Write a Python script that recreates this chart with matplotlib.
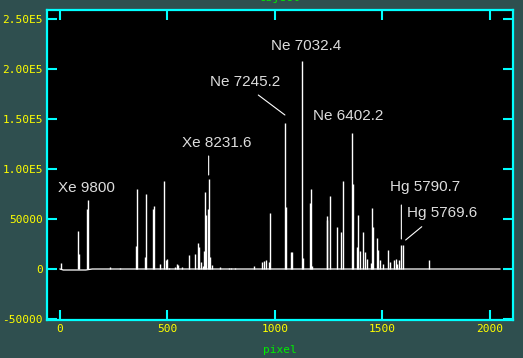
import matplotlib
matplotlib.use("Agg")
import matplotlib.pyplot as plt

# ---- data ----
peak_pixel = [6, 84, 90, 127, 132, 233, 279, 355, 360, 397, 402, 434, 439, 467, 483, 492, 497,
              509, 534, 543, 551, 567, 599, 630, 641, 645, 655, 667, 672, 676, 680, 689, 695, 700,
              708, 745, 788, 796, 816, 904, 940, 950, 959, 973, 979, 1046, 1052, 1074, 1078, 1128,
              1131, 1162, 1167, 1174, 1241, 1244, 1257, 1288, 1310, 1319, 1361, 1365, 1381, 1386,
              1397, 1409, 1420, 1431, 1446, 1454, 1458, 1474, 1479, 1490, 1505, 1528, 1536, 1555,
              1563, 1570, 1578, 1589, 1597, 1719]
peak_counts = [6000, 38000, 15000, 60000, 69000, 2000, 1500, 23000, 80000, 12000, 75000, 60000,
               63000, 5000, 88000, 9000, 10000, 1000, 2000, 5000, 4000, 2000, 14000, 15000, 26000,
               22000, 7000, 3000, 18000, 77000, 54000, 60000, 90000, 12000, 4000, 2000, 1500, 1500,
               1500, 3000, 7000, 8000, 9000, 7000, 56000, 146000, 62000, 17000, 17000, 208000,
               11000, 66000, 80000, 3000, 53000, 49000, 73000, 42000, 37000, 88000, 136000, 85000,
               22000, 54000, 18000, 37000, 17000, 10000, 6000, 61000, 42000, 31000, 19000, 9000,
               5000, 19000, 7000, 9000, 10000, 5000, 9000, 24000, 24000, 9000]
baseline_pixel = [0, 15, 120, 150, 2048]
baseline_counts = [0, -1000, -1000, 0, 0]

xtick_values = [0, 500, 1000, 1500, 2000]
xtick_labels = ["0", "500", "1000", "1500", "2000"]
ytick_values = [-50000, 0, 50000, 100000, 150000, 200000, 250000]
ytick_labels = ["-50000", "0", "50000", "1.00E5", "1.50E5", "2.00E5", "2.50E5"]

# label, text position, arrow start, arrow end (None = no arrow)
line_labels = ["Xe 9800", "Xe 8231.6", "Ne 7245.2", "Ne 7032.4", "Ne 6402.2", "Hg 5790.7", "Hg 5769.6"]
label_x = [123, 728, 863, 1147, 1343, 1699, 1777]
label_y = [80700, 126300, 187300, 223000, 153000, 82300, 56300]
arrow_start = [None, (692, 113000), (923, 174000), None, None, (1589, 64000), (1684, 42300)]
arrow_end = [None, (692, 94000), (1047, 154000), None, None, (1589, 30000), (1609, 29000)]

# ---- figure ----
BG = "#2f4f4f"
CYAN = "#00ffff"
YELLOW = "#ffff00"
GREEN = "#00ee00"

fig = plt.figure(figsize=(5.23, 3.58), dpi=100, facecolor=BG)
ax = fig.add_axes([47 / 523, 38 / 358, 466 / 523, 310 / 358])
ax.set_facecolor("black")

ax.plot(baseline_pixel, baseline_counts, color="white", lw=0.9)
ax.vlines(peak_pixel, 0, peak_counts, color="white", lw=1.0)

ax.set_xlim(-60.5, 2108.7)
ax.set_ylim(-51000, 259000)

ax.set_xticks(xtick_values)
ax.set_xticklabels(xtick_labels)
ax.set_yticks(ytick_values)
ax.set_yticklabels(ytick_labels)

for s in ax.spines.values():
    s.set_color(CYAN)
    s.set_linewidth(1.6)

ax.tick_params(axis="both", which="major", direction="in", length=7, width=1.5,
               color=CYAN, labelcolor=YELLOW, top=True, right=True,
               labelsize=8)
ax.tick_params(axis="x", pad=3)
ax.tick_params(axis="y", pad=3)
for lab in ax.get_xticklabels() + ax.get_yticklabels():
    lab.set_family("DejaVu Sans Mono")

for i, txt in enumerate(line_labels):
    ax.text(label_x[i], label_y[i], txt, color="#dddddd", fontsize=11,
            family="Liberation Sans", ha="center", va="center")
    if arrow_start[i] is not None:
        ax.annotate("", xy=arrow_end[i], xytext=arrow_start[i],
                    arrowprops=dict(arrowstyle="-", color="white", lw=0.8,
                                    shrinkA=0, shrinkB=0))

fig.text(280 / 523, 1 - 350 / 358, "pixel", color=GREEN, fontsize=8,
         family="DejaVu Sans Mono", ha="center", va="center")
fig.text(280 / 523, 1 + 2 / 358, "object", color=GREEN, fontsize=8,
         family="DejaVu Sans Mono", ha="center", va="center")

fig.savefig("out.png", dpi=100, facecolor=BG)
